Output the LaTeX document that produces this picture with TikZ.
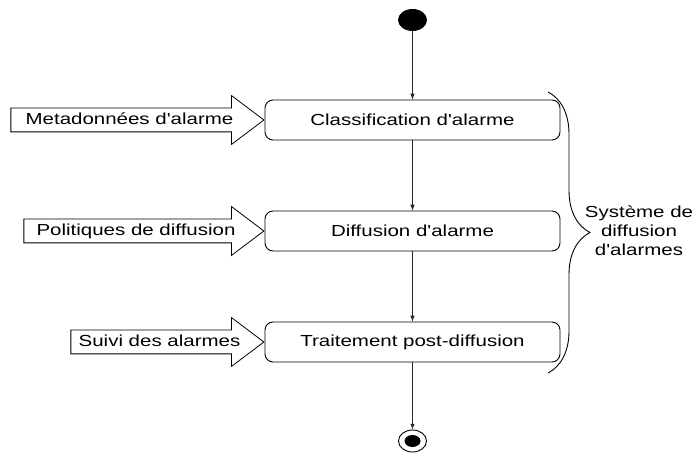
\documentclass[tikz,border=0pt]{standalone}
\usepackage{fontspec}
\setmainfont{Liberation Sans}[FakeStretch=1.28, Ligatures=TeXOff]
\usepackage{tikz}
\usetikzlibrary{shapes.geometric, shapes.arrows, decorations.pathreplacing, positioning}

\tikzset{
    etape/.style={draw, rounded corners=8pt, minimum width=295pt, minimum height=40pt, line width=0.9pt},
    entree/.style={single arrow, draw, line width=0.8pt, text height=12pt, text depth=3.5pt,
        inner xsep=4pt, inner ysep=3.75pt, single arrow head extend=12.5pt,
        single arrow tip angle=74, anchor=tip},
    fleche/.style={-latex, line width=1pt, black!85}
}

\begin{document}
\begin{tikzpicture}[x=1pt, y=1pt, font=\fontsize{16}{19}\selectfont]
    \useasboundingbox (0,0) rectangle (695,452);

    % Debut et fin
    \node[ellipse, fill=black, minimum width=29pt, minimum height=22pt, inner sep=0pt] (debut) at (412.5,432) {};
    \node[ellipse, draw, line width=0.9pt, minimum width=28pt, minimum height=22pt, inner sep=0pt] (fin) at (412.5,11) {};
    \node[ellipse, fill=black, minimum width=16pt, minimum height=12pt, inner sep=0pt] at (fin) {};

    % Etapes
    \node[etape] (classif) at (412.5,332) {Classification d'alarme};
    \node[etape] (diffusion) at (412.5,221) {Diffusion d'alarme};
    \node[etape] (traitement) at (412.5,110) {Traitement post-diffusion};

    % Transitions
    \draw[fleche] (debut) -- (classif);
    \draw[fleche] (classif) -- (diffusion);
    \draw[fleche] (diffusion) -- (traitement);
    \draw[fleche] (traitement) -- (fin);

    % Entrees
    \node[entree, minimum height=253pt] (meta) at (classif.west) {Metadonnées d'alarme};
    \node[entree, minimum height=240pt] (politiques) at (diffusion.west) {Politiques de diffusion};
    \node[entree, minimum height=193pt] (suivi) at (traitement.west) {Suivi des alarmes};

    % Accolade
    \draw[line width=0.9pt, decorate, decoration={brace, amplitude=42pt}] (548,360) -- (548,79);
    \node[align=center] (systeme) at (639,221) {Système de\\diffusion\\d'alarmes};
\end{tikzpicture}
\end{document}
